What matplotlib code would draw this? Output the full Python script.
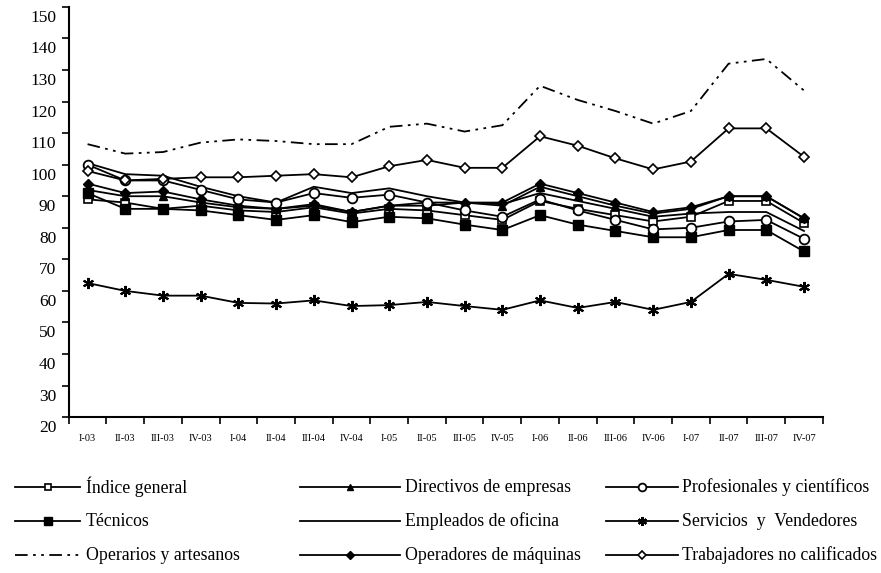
import numpy as np
import matplotlib
matplotlib.use("Agg")
import matplotlib.pyplot as plt
import matplotlib.transforms as mtransforms
from matplotlib.lines import Line2D

plt.rcParams['font.family'] = ['Liberation Serif', 'DejaVu Serif']

quarters = ['I-03', 'II-03', 'III-03', 'IV-03', 'I-04', 'II-04', 'III-04', 'IV-04',
            'I-05', 'II-05', 'III-05', 'IV-05', 'I-06', 'II-06', 'III-06', 'IV-06',
            'I-07', 'II-07', 'III-07', 'IV-07']

indice_general = [89, 88, 86, 87, 85.5, 85, 86.5, 84.5, 86, 85.5, 84, 82.5,
                  88.5, 86, 84, 82, 83.5, 88.5, 88.5, 81.5]
directivos = [92, 90, 90, 88, 86.5, 86, 87, 85, 87, 87, 88, 87,
              93, 90, 87, 84.5, 86, 90, 90, 83]
profesionales = [100, 95, 95, 92, 89, 88, 91, 89.5, 90.5, 88, 85.5, 83.5,
                 89, 85.5, 82.5, 79.5, 80, 82, 82.5, 76.5]
tecnicos = [91, 86, 86, 85.5, 84, 82.5, 84, 81.8, 83.5, 83, 81, 79.3,
            84, 81, 79, 77, 77, 79.3, 79.3, 72.5]
empleados = [100.5, 97, 96.5, 93, 90, 88, 93, 91, 92.5, 90, 88, 87.5,
             91, 88.5, 86, 83.5, 84.5, 85, 85, 79]
servicios = [62.5, 60, 58.5, 58.5, 56.2, 56, 57, 55.2, 55.5, 56.5, 55.2, 54,
             57, 54.6, 56.5, 54, 56.5, 65.4, 63.5, 61.3]
operarios = [106.5, 103.5, 104, 107, 108, 107.5, 106.5, 106.5, 112, 113, 110.5, 112.5,
             125, 120.5, 117, 113, 117, 132, 133.5, 123.5]
operadores = [94, 91, 91.5, 89, 87, 86, 87.5, 85, 87, 88, 88, 88,
              94, 91, 88, 85, 86.5, 90, 90, 83]
trabajadores = [98, 95, 95.5, 96, 96, 96.5, 97, 96, 99.5, 101.5, 99, 99,
                109, 106, 102, 98.5, 101, 111.5, 111.5, 102.5]

W, H = 881, 573
fig = plt.figure(figsize=(W / 100, H / 100), dpi=100)
ax = fig.add_axes([0.078, 0.272, 0.856, 0.716])

x = np.arange(len(quarters))
lw = 1.3
ms = 6

styles = {
    'Índice general': dict(marker='s', ms=ms, mfc='white', mec='black', mew=1.2),
    'Técnicos': dict(marker='s', ms=ms + 1, mfc='black', mec='black'),
    'Operarios y artesanos': dict(dashes=(7, 3, 1.5, 3, 1.5, 3)),
    'Directivos de empresas': dict(marker='^', ms=ms, mfc='black', mec='black'),
    'Empleados de oficina': dict(),
    'Operadores de máquinas': dict(marker='D', ms=ms - 1, mfc='black', mec='black'),
    'Profesionales y científicos': dict(marker='o', ms=ms + 1, mfc='white', mec='black', mew=1.3),
    'Servicios  y  Vendedores': dict(marker=(6, 2, 0), ms=ms + 2, mec='black', mew=1.5),
    'Trabajadores no calificados': dict(marker='D', ms=ms - 1, mfc='white', mec='black', mew=1.2),
}
series = {
    'Índice general': indice_general,
    'Técnicos': tecnicos,
    'Operarios y artesanos': operarios,
    'Directivos de empresas': directivos,
    'Empleados de oficina': empleados,
    'Operadores de máquinas': operadores,
    'Profesionales y científicos': profesionales,
    'Servicios  y  Vendedores': servicios,
    'Trabajadores no calificados': trabajadores,
}
for name, vals in series.items():
    ax.plot(x, vals, color='black', lw=lw, **styles[name])

ax.set_xlim(-0.5, len(quarters) - 0.5)
ax.set_ylim(20, 150)
ax.set_yticks(np.arange(20, 151, 10))
ax.set_xticks(np.arange(-0.5, len(quarters), 1.0))
ax.set_xticklabels([])
ax.set_xticks(x, minor=True)
ax.set_xticklabels(quarters, minor=True, fontsize=7.5)
ax.tick_params(axis='x', which='minor', length=0, pad=12)
ax.tick_params(axis='x', which='major', length=5, width=1.2, direction='out')
ax.tick_params(axis='y', length=5, width=1.2, direction='out', labelsize=12.5, pad=4)

for s in ['top', 'right']:
    ax.spines[s].set_visible(False)
for s in ['left', 'bottom']:
    ax.spines[s].set_linewidth(1.5)

# y labels sit a little below their ticks in the original
offset = mtransforms.ScaledTranslation(0, -0.09, fig.dpi_scale_trans)
for lab in ax.get_yticklabels():
    lab.set_transform(lab.get_transform() + offset)

# legend: three columns, drawn by hand so the rows line up
legend_cols = [
    (['Índice general', 'Técnicos', 'Operarios y artesanos'], 15, 80, 86),
    (['Directivos de empresas', 'Empleados de oficina', 'Operadores de máquinas'], 300, 400, 405),
    (['Profesionales y científicos', 'Servicios  y  Vendedores', 'Trabajadores no calificados'], 606, 678, 682),
]
row_y = [487, 521, 555]
for names, x0, x1, xt in legend_cols:
    for name, ry in zip(names, row_y):
        yf = 1 - ry / H
        st = dict(styles[name])
        if 'ms' in st:
            st['ms'] = st['ms'] * 0.8
        line = Line2D([x0 / W, x1 / W], [yf, yf], color='black', lw=lw,
                      markevery=[], transform=fig.transFigure, **st)
        fig.add_artist(line)
        if 'marker' in st:
            mk = Line2D([(x0 + x1) / 2 / W], [yf], color='black', lw=0,
                        transform=fig.transFigure, **st)
            fig.add_artist(mk)
        fig.text(xt / W, yf, name, fontsize=12.8, va='center', ha='left')

fig.savefig('out.png', dpi=100)
